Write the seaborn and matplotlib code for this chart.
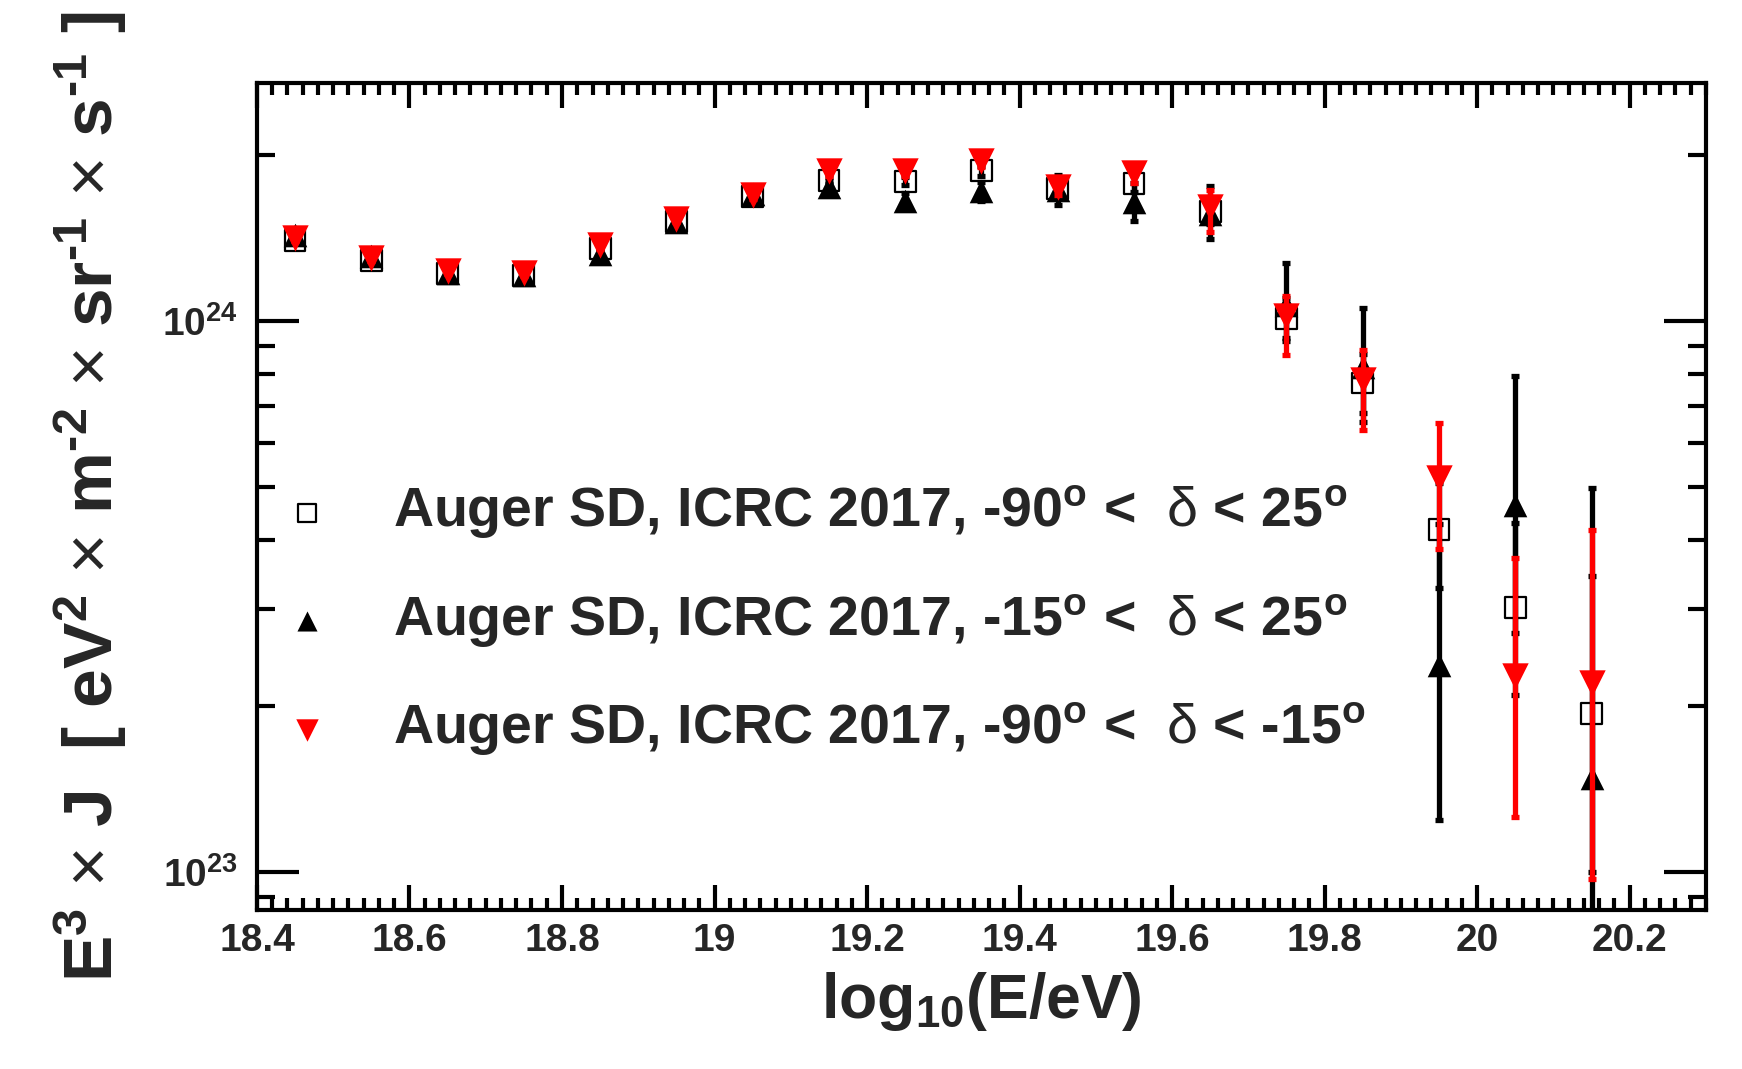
import numpy as np
import pandas as pd
import matplotlib
matplotlib.use("Agg")
import matplotlib.pyplot as plt
from matplotlib.ticker import FixedLocator, FixedFormatter
import seaborn as sns

# ---- data: E^3 J in units of 1e24 eV^2 m^-2 sr^-1 s^-1 ----
UNIT = 1e24
log_energy = [18.45, 18.55, 18.65, 18.75, 18.85, 18.95, 19.05, 19.15, 19.25,
              19.35, 19.45, 19.55, 19.65, 19.75, 19.85, 19.95, 20.05, 20.15]

# -90 < dec < 25 (full field of view)
flux_full = [1.398, 1.285, 1.218, 1.210, 1.350, 1.513, 1.680, 1.797, 1.790,
             1.870, 1.738, 1.775, 1.578, 1.010, 0.771, 0.418, 0.302, 0.194]
err_full_lo = [0.012, 0.012, 0.012, 0.013, 0.015, 0.018, 0.021, 0.025, 0.030,
               0.040, 0.050, 0.060, 0.080, 0.080, 0.090, 0.090, 0.093, 0.094]
err_full_hi = [0.012, 0.012, 0.012, 0.013, 0.015, 0.018, 0.021, 0.025, 0.030,
               0.040, 0.050, 0.060, 0.080, 0.090, 0.100, 0.090, 0.127, 0.151]

# -15 < dec < 25
flux_north = [1.430, 1.310, 1.220, 1.210, 1.320, 1.510, 1.700, 1.750, 1.650,
              1.716, 1.730, 1.645, 1.565, 1.070, 0.825, 0.237, 0.463, 0.148]
err_north_lo = [0.020, 0.020, 0.020, 0.022, 0.025, 0.030, 0.035, 0.045, 0.055,
                0.070, 0.110, 0.130, 0.160, 0.150, 0.170, 0.113, 0.192, 0.090]
err_north_hi = [0.020, 0.020, 0.020, 0.022, 0.025, 0.030, 0.035, 0.045, 0.055,
                0.070, 0.110, 0.130, 0.190, 0.205, 0.230, 0.190, 0.331, 0.349]

# -90 < dec < -15
flux_south = [1.410, 1.300, 1.230, 1.220, 1.370, 1.530, 1.690, 1.866, 1.870,
              1.950, 1.750, 1.850, 1.610, 1.020, 0.781, 0.518, 0.227, 0.220]
err_south_lo = [0.015, 0.015, 0.015, 0.016, 0.018, 0.022, 0.026, 0.032, 0.038,
                0.050, 0.060, 0.070, 0.160, 0.155, 0.147, 0.133, 0.101, 0.123]
err_south_hi = [0.015, 0.015, 0.015, 0.016, 0.018, 0.022, 0.026, 0.032, 0.038,
                0.050, 0.060, 0.070, 0.120, 0.090, 0.105, 0.134, 0.144, 0.197]

series_labels = [
    r"Auger SD, ICRC 2017, -90$^{o}$ <  $\mathsf{\delta}$ < 25$^{o}$",
    r"Auger SD, ICRC 2017, -15$^{o}$ <  $\mathsf{\delta}$ < 25$^{o}$",
    r"Auger SD, ICRC 2017, -90$^{o}$ <  $\mathsf{\delta}$ < -15$^{o}$",
]

xtick_values = [18.4, 18.6, 18.8, 19.0, 19.2, 19.4, 19.6, 19.8, 20.0, 20.2]
xtick_labels = ["18.4", "18.6", "18.8", "19", "19.2", "19.4", "19.6", "19.8", "20", "20.2"]
ytick_values = [1e23, 1e24]
ytick_labels = [r"10$^{23}$", r"10$^{24}$"]

# ---- style ----
sns.set_theme(style="ticks")
plt.rcParams["font.family"] = ["Liberation Sans", "DejaVu Sans"]
plt.rcParams["font.weight"] = "bold"
plt.rcParams["mathtext.fontset"] = "custom"
plt.rcParams["mathtext.rm"] = "Liberation Sans:bold"
plt.rcParams["mathtext.bf"] = "Liberation Sans:bold"
plt.rcParams["mathtext.it"] = "Liberation Sans:bold"
plt.rcParams["mathtext.sf"] = "Liberation Sans:regular"
plt.rcParams["mathtext.default"] = "rm"

fig = plt.figure(figsize=(17.42, 10.69), dpi=100)
ax = fig.add_axes([0.1475, 0.1487, 0.9793 - 0.1475, 0.9224 - 0.1487])

series = [
    dict(y=flux_full, lo=err_full_lo, hi=err_full_hi, marker="s", color="black",
         face="none", size=15 ** 2, ew=1.6, z=2, label=series_labels[0]),
    dict(y=flux_north, lo=err_north_lo, hi=err_north_hi, marker="^", color="black",
         face="black", size=17 ** 2, ew=0, z=4, label=series_labels[1]),
    dict(y=flux_south, lo=err_south_lo, hi=err_south_hi, marker="v", color="red",
         face="red", size=19 ** 2, ew=0, z=6, label=series_labels[2]),
]

for s in series:
    df = pd.DataFrame({
        "logE": log_energy,
        "flux": np.array(s["y"]) * UNIT,
        "lo": np.array(s["lo"]) * UNIT,
        "hi": np.array(s["hi"]) * UNIT,
    })
    ax.errorbar(df["logE"], df["flux"], yerr=[df["lo"], df["hi"]], fmt="none",
                ecolor=s["color"], elinewidth=3.8, capsize=2.8, capthick=3.8,
                zorder=s["z"])
    sns.scatterplot(data=df, x="logE", y="flux", ax=ax, marker=s["marker"],
                    s=s["size"], facecolor=s["face"], edgecolor=s["color"],
                    linewidth=s["ew"], zorder=s["z"] + 1, label=s["label"],
                    legend=False)

ax.set_yscale("log")
ax.set_xlim(18.4, 20.3)
ax.set_ylim(8.53e22, 2.70e24)

ax.xaxis.set_major_locator(FixedLocator(xtick_values))
ax.xaxis.set_major_formatter(FixedFormatter(xtick_labels))
ax.xaxis.set_minor_locator(FixedLocator(np.round(np.arange(18.40, 20.301, 0.02), 2)))
ax.yaxis.set_major_locator(FixedLocator(ytick_values))
ax.yaxis.set_major_formatter(FixedFormatter(ytick_labels))
ax.yaxis.set_minor_locator(FixedLocator([k * 10.0 ** e for e in (22, 23, 24) for k in range(2, 10)]))
ax.yaxis.set_minor_formatter(FixedFormatter([]))

ax.tick_params(axis="x", which="major", direction="in", length=18, width=3,
               top=True, labelsize=28, pad=9, color="black")
ax.tick_params(axis="x", which="minor", direction="in", length=8.6, width=3,
               top=True, color="black")
ax.tick_params(axis="y", which="major", direction="in", length=30, width=3,
               right=True, labelsize=28, pad=14, color="black")
ax.tick_params(axis="y", which="minor", direction="in", length=13, width=3,
               right=True, color="black")
for lab in ax.get_xticklabels() + ax.get_yticklabels():
    lab.set_fontweight("bold")

for sp in ax.spines.values():
    sp.set_linewidth(3)
    sp.set_color("black")

ax.set_xlabel(r"log$_{10}$(E/eV)", fontsize=45, fontweight="bold")
ax.xaxis.set_label_coords(0.5, -0.072)
ax.set_ylabel("E$^{3}$ $\\mathsf{\\times}$ J  [ eV$^{2}$ $\\mathsf{\\times}$ m$^{\u20102}$ "
              "$\\mathsf{\\times}$ sr$^{\u20101}$ $\\mathsf{\\times}$ s$^{\u20101}$ ]",
              fontsize=50, fontweight="bold", va="center")
ax.yaxis.set_label_coords(-0.115, 0.5)

handles, labels = ax.get_legend_handles_labels()
leg = ax.legend(handles, labels, loc="upper left",
                bbox_to_anchor=(279 / 1742, 1 - 484 / 1069),
                bbox_transform=fig.transFigure, frameon=False,
                prop={"family": "Liberation Sans", "weight": "bold", "size": 40},
                handlelength=1.0, handletextpad=1.05, labelspacing=0.92,
                borderpad=0, borderaxespad=0, markerscale=0.85)

fig.savefig("out.png", dpi=100, facecolor="white")
